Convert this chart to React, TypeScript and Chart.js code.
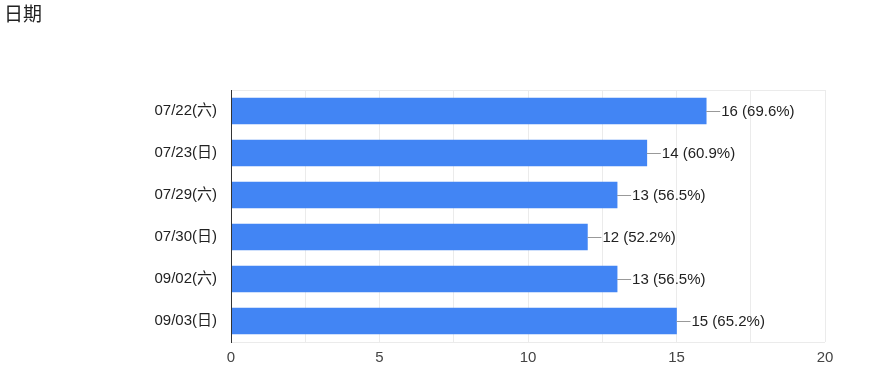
import React, { useEffect, useRef } from "react";
import { Chart, registerables } from "chart.js";

Chart.register(...registerables);

const categories = ["07/22(六)", "07/23(日)", "07/29(六)", "07/30(日)", "09/02(六)", "09/03(日)"];
const counts = [16, 14, 13, 12, 13, 15];
const percents = ["69.6%", "60.9%", "56.5%", "52.2%", "56.5%", "65.2%"];
const xTickValues = [0, 5, 10, 15, 20];

const FONT = 'Arial, "Liberation Sans", "Noto Sans CJK TC", sans-serif';

const frameAndLabels = {
  id: "frameAndLabels",
  beforeDatasetsDraw(chart: any) {
    const { ctx, chartArea } = chart;
    ctx.save();
    ctx.strokeStyle = "#ebebeb";
    ctx.lineWidth = 1;
    ctx.beginPath();
    ctx.moveTo(chartArea.left, chartArea.top + 0.5);
    ctx.lineTo(chartArea.right, chartArea.top + 0.5);
    ctx.moveTo(chartArea.left, chartArea.bottom + 0.5);
    ctx.lineTo(chartArea.right, chartArea.bottom + 0.5);
    ctx.stroke();
    ctx.restore();
  },
  afterDatasetsDraw(chart: any) {
    const { ctx, chartArea } = chart;
    const meta = chart.getDatasetMeta(0);
    ctx.save();
    ctx.strokeStyle = "#333";
    ctx.lineWidth = 1;
    ctx.beginPath();
    ctx.moveTo(chartArea.left + 0.5, chartArea.top);
    ctx.lineTo(chartArea.left + 0.5, chartArea.bottom + 1);
    ctx.stroke();
    meta.data.forEach((bar: any, i: number) => {
      const x = bar.x;
      const y = Math.round(bar.y) + 0.5;
      ctx.strokeStyle = "#999";
      ctx.beginPath();
      ctx.moveTo(x, y);
      ctx.lineTo(x + 14, y);
      ctx.stroke();
      ctx.fillStyle = "#222";
      ctx.font = "15px " + FONT;
      ctx.textBaseline = "middle";
      ctx.textAlign = "left";
      ctx.fillText(`${counts[i]} (${percents[i]})`, x + 15, bar.y + 1);
    });
    ctx.restore();
  },
};

export default function App() {
  const canvasRef = useRef<HTMLCanvasElement | null>(null);

  useEffect(() => {
    const canvas = canvasRef.current;
    if (!canvas) return;
    const chart = new Chart(canvas, {
      type: "bar",
      data: {
        labels: categories,
        datasets: [
          {
            data: counts,
            backgroundColor: "#4285f4",
            borderWidth: 0,
            barThickness: 26,
          },
        ],
      },
      options: {
        indexAxis: "y",
        animation: false,
        responsive: false,
        maintainAspectRatio: false,
        layout: { padding: { top: 90, right: 44, left: 0, bottom: 0 } },
        plugins: {
          legend: { display: false },
          title: { display: false },
          tooltip: { enabled: false },
        },
        scales: {
          x: {
            min: 0,
            max: 20,
            afterFit: (s: any) => {
              s.height = 47;
            },
            afterBuildTicks: (s: any) => {
              const t = [];
              for (let v = 0; v <= 20; v += 2.5) t.push({ value: v });
              s.ticks = t;
            },
            ticks: {
              autoSkip: false,
              maxRotation: 0,
              padding: 7,
              color: "#444",
              font: { size: 15, family: FONT },
              callback: (v: any) => (xTickValues.includes(Number(v)) ? String(v) : ""),
            },
            grid: { color: "#ebebeb", drawTicks: false },
            border: { display: false },
          },
          y: {
            afterFit: (s: any) => {
              s.width = 231;
            },
            ticks: {
              padding: 14,
              color: "#222",
              font: { size: 15, family: FONT },
            },
            grid: { display: false, drawTicks: false },
            border: { display: false },
          },
        },
      },
      plugins: [frameAndLabels],
    });
    return () => chart.destroy();
  }, []);

  return (
    <div style={{ position: "fixed", left: 0, top: 0, width: 869, height: 389, background: "#fff" }}>
      <div
        style={{
          position: "absolute",
          left: 4,
          top: 3,
          fontSize: 19,
          color: "#222",
          fontFamily: FONT,
          lineHeight: "24px",
        }}
      >
        日期
      </div>
      <canvas ref={canvasRef} width={869} height={389} style={{ display: "block" }} />
    </div>
  );
}
